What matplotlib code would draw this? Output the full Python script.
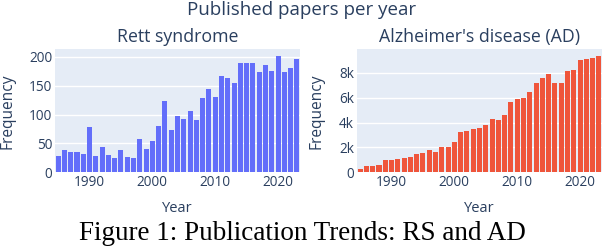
import numpy as np
import matplotlib.pyplot as plt

years = np.arange(1985, 2024)

rett = [28, 38, 35, 36, 32, 79, 28, 44, 30, 25,
        39, 27, 25, 58, 41, 54, 81, 124, 74, 98,
        93, 107, 90, 128, 145, 131, 166, 164, 154, 190,
        190, 190, 173, 185, 176, 202, 173, 181, 197]

ad = [270, 540, 540, 620, 970, 970, 1080, 1190, 1270, 1480,
      1590, 1780, 1640, 2070, 2070, 2450, 3260, 3310, 3470, 3580,
      3770, 4310, 4230, 4630, 5660, 5870, 6010, 6490, 7220, 7620,
      7890, 7220, 7220, 8190, 8270, 9000, 9080, 9240, 9400]

bg = '#E5ECF6'
txt = '#2a3f5f'
plt.rcParams['font.family'] = ['Open Sans', 'DejaVu Sans']

W, H = 604, 246
fig = plt.figure(figsize=(W / 100, H / 100), dpi=100)

def add_panel(left, data, color, title, yticks, ylabels, ymax, ylab_x):
    ax = fig.add_axes([left / W, (H - 172.3) / H, 245 / W, 123 / H])
    ax.set_facecolor(bg)
    ax.bar(years, data, width=0.8, color=color, zorder=2)
    ax.set_xlim(1984.5, 2023.5)
    ax.set_ylim(0, ymax)
    ax.set_xticks([1990, 2000, 2010, 2020])
    ax.set_yticks(yticks)
    ax.set_yticklabels(ylabels)
    ax.grid(axis='y', color='white', linewidth=1, zorder=1)
    ax.grid(axis='x', visible=False)
    for s in ax.spines.values():
        s.set_visible(False)
    ax.tick_params(length=0, labelsize=9.8, colors=txt, pad=2)
    ax.set_title(title, fontsize=12.8, color=txt, pad=5)
    ax.set_xlabel('Year', fontsize=10.5, color=txt)
    ax.xaxis.set_label_coords(0.5, -(208 - 172.3) / 123)
    ax.xaxis.label.set_va('center')
    ax.set_ylabel('Frequency', fontsize=11.2, color=txt)
    ax.yaxis.set_label_coords((ylab_x - left) / 245, 0.5)
    ax.yaxis.label.set_va('center')
    return ax

add_panel(55, rett, '#636EFA', 'Rett syndrome',
          [0, 50, 100, 150, 200], ['0', '50', '100', '150', '200'], 213, 8)
add_panel(357, ad, '#EF553B', "Alzheimer's disease (AD)",
          [0, 2000, 4000, 6000, 8000], ['0', '2k', '4k', '6k', '8k'], 9900, 317)

fig.text(0.5, 1 - 10 / H, 'Published papers per year', ha='center', va='center',
         fontsize=13.5, color=txt)
fig.text(0.5, 1 - 239.5 / H, 'Figure 1: Publication Trends: RS and AD', ha='center',
         va='baseline', fontsize=19.5, family=['Liberation Serif', 'DejaVu Serif'],
         color='black')

fig.savefig('out.png', dpi=100)
